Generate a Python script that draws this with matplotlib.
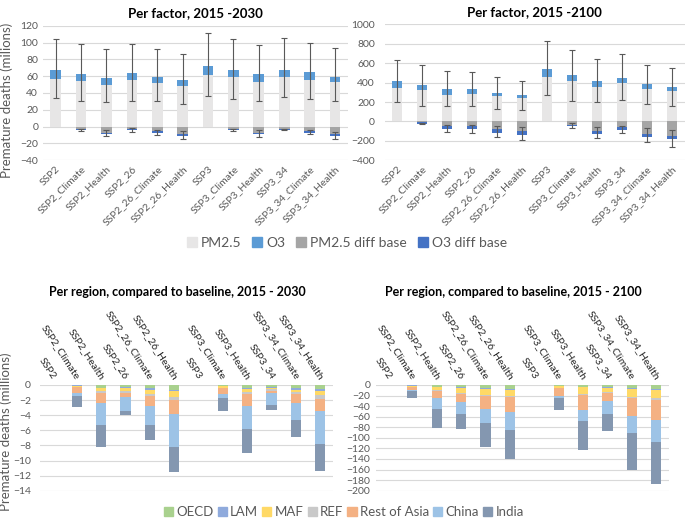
import numpy as np
import matplotlib
matplotlib.use("Agg")
import matplotlib.pyplot as plt
from matplotlib.patches import Patch

plt.rcParams["font.family"] = ["Lato", "DejaVu Sans"]

W, H = 685, 519

categories = ["SSP2", "SSP2_Climate", "SSP2_Health", "SSP2_26", "SSP2_26_Climate",
              "SSP2_26_Health", "SSP3", "SSP3_Climate", "SSP3_Health", "SSP3_34",
              "SSP3_34_Climate", "SSP3_34_Health"]
nan = np.nan

# ---- per factor, 2015-2030 ----
pm25_2030 = [57, 54.5, 50, 55, 51.5, 48.5, 61, 58.5, 53.5, 59.5, 56, 52.5]
o3_2030 = [10, 8.5, 8, 8.5, 8, 7, 11, 8.5, 9, 8, 8.5, 7]
pm25_diff_2030 = [0, -2.5, -7, -2.5, -5.5, -9, 0, -3, -7.5, -3, -5.5, -9]
o3_diff_2030 = [0, -1.5, -1.5, -1, -2, -2.5, 0, -1, -1.5, -1, -1.5, -2.5]
err_up_hi_2030 = [104, 98, 92, 98, 92, 86, 111, 104, 97, 105, 100, 93]
err_up_lo_2030 = [34, 31, 29, 31, 30, 27, 37, 33, 31, 35, 33, 30]
err_dn_hi_2030 = [nan, -2.5, -4.5, -2, -3.5, -5.5, nan, -2.5, -4.5, -2.5, -3.5, -6]
err_dn_lo_2030 = [nan, -5, -11.5, -6, -10.5, -15, nan, -5.5, -12, -4.5, -9, -15]

# ---- per factor, 2015-2100 ----
pm25_2100 = [343, 326, 274, 281, 261, 240, 453, 412, 353, 395, 333, 309]
o3_2100 = [69, 51, 59, 52, 31, 28, 86, 65, 66, 48, 48, 44]
pm25_diff_2100 = [0, -10, -51, -50, -82, -100, 0, -34, -103, -58, -127, -148]
o3_diff_2100 = [0, -14, -28, -25, -38, -37, 0, -17, -24, -28, -31, -37]
err_up_hi_2100 = [635, 577, 518, 508, 453, 415, 827, 731, 642, 693, 580, 546]
err_up_lo_2100 = [199, 161, 154, 154, 130, 113, 271, 213, 199, 223, 178, 161]
err_dn_hi_2100 = [nan, -15, -38, -38, -51, -58, nan, -17, -58, -45, -69, -86]
err_dn_lo_2100 = [nan, -30, -110, -120, -161, -189, nan, -69, -172, -120, -216, -260]

# ---- per region, 2015-2030 ----
regions = ["OECD", "LAM", "MAF", "REF", "Rest of Asia", "China", "India"]
oecd_2030 = [0, -0.05, -0.4, -0.3, -0.45, -0.65, 0, -0.07, -0.45, -0.3, -0.45, -0.55]
lam_2030 = [0, -0.05, -0.05, -0.15, -0.15, -0.2, 0, -0.03, -0.1, -0.05, -0.15, -0.2]
maf_2030 = [0, -0.15, -0.4, -0.4, -0.6, -0.8, 0, -0.3, -0.35, -0.2, -0.35, -0.6]
ref_2030 = [0, -0.05, -0.25, -0.2, -0.25, -0.4, 0, -0.05, -0.35, -0.25, -0.2, -0.45]
roa_2030 = [0, -0.75, -1.3, -0.55, -1.3, -1.75, 0, -0.75, -1.5, -0.3, -1.2, -1.6]
china_2030 = [0, -0.4, -2.85, -1.9, -2.55, -4.45, 0, -0.55, -3.05, -1.6, -2.3, -4.45]
india_2030 = [0, -1.5, -3.0, -0.5, -1.95, -3.25, 0, -1.65, -3.25, -0.65, -2.2, -3.5]

# ---- per region, 2015-2100 ----
oecd_2100 = [0, -0.5, -3.5, -3, -5, -7, 0, -1, -3.5, -3, -5, -7]
lam_2100 = [0, -0.5, -0.5, -3, -3, -2, 0, -0.5, -1, -3.5, -3.5, -3]
maf_2100 = [0, -3, -5, -8.5, -10.5, -11, 0, -4.5, -12, -7.5, -14, -15.5]
ref_2100 = [0, -0.5, -1.5, -2, -2, -2.5, 0, -0.5, -2, -2, -2.5, -3]
roa_2100 = [0, -5, -15, -15, -24, -28, 0, -14, -28, -14, -34.5, -38.5]
china_2100 = [0, -1.5, -19, -23, -26.5, -34, 0, -3.5, -22, -24.5, -31.5, -40]
india_2100 = [0, -13, -37.5, -29.5, -47, -56, 0, -24, -54, -32, -70, -80]

factor_colors = ["#E7E6E6", "#5B9BD5", "#A5A5A5", "#4472C4"]
region_colors = ["#A9D18E", "#8FAADC", "#FFD966", "#C9C9C9", "#F4B183", "#9DC3E6", "#8497B0"]
GRID = "#D9D9D9"
TXT = "#595959"


def axes_px(fig, x0, x1, y0, y1):
    return fig.add_axes([x0 / W, 1 - y1 / H, (x1 - x0) / W, (y1 - y0) / H])


def style(ax, ylim, step):
    ax.set_ylim(*ylim)
    ax.set_xlim(-0.5, len(categories) - 0.5)
    ax.set_yticks(np.arange(ylim[0], ylim[1] + step / 2, step))
    ax.grid(axis="y", color=GRID, lw=0.8)
    ax.set_axisbelow(True)
    for s in ax.spines.values():
        s.set_visible(False)
    ax.tick_params(length=0, labelsize=7.5, labelcolor=TXT)


def factor_panel(ax, pm, o3, pmd, o3d, uhi, ulo, dhi, dlo, ylim, step, title):
    x = np.arange(len(categories))
    pm, o3, pmd, o3d = map(np.array, (pm, o3, pmd, o3d))
    w = 0.42
    ax.bar(x, pm, w, color=factor_colors[0])
    ax.bar(x, o3, w, bottom=pm, color=factor_colors[1])
    ax.bar(x, pmd, w, color=factor_colors[2])
    ax.bar(x, o3d, w, bottom=pmd, color=factor_colors[3])
    top = pm + o3
    ax.errorbar(x, top, yerr=[top - np.array(ulo), np.array(uhi) - top], fmt="none",
                ecolor=TXT, elinewidth=0.8, capsize=2.5, capthick=0.8)
    bot = pmd + o3d
    m = ~np.isnan(np.array(dhi))
    ax.errorbar(x[m], bot[m], yerr=[bot[m] - np.array(dlo)[m], np.array(dhi)[m] - bot[m]],
                fmt="none", ecolor=TXT, elinewidth=0.8, capsize=2.5, capthick=0.8)
    style(ax, ylim, step)
    ax.set_xticks(x)
    ax.set_xticklabels(categories, rotation=45, ha="right", rotation_mode="anchor")
    ax.tick_params(axis="x", pad=3)
    ax.set_title(title, fontsize=9.5, fontweight="bold", pad=6)


def region_panel(ax, series, ylim, step):
    x = np.arange(len(categories))
    base = np.zeros(len(categories))
    for vals, c in zip(series, region_colors):
        v = np.array(vals)
        ax.bar(x, v, 0.42, bottom=base, color=c)
        base = base + v
    style(ax, ylim, step)
    ax.set_xticks([])
    for i, lab in enumerate(categories):
        ax.text(i + 0.05, 1.06, lab, transform=ax.get_xaxis_transform(), rotation=-57,
                ha="right", va="center", rotation_mode="anchor", fontsize=7.5,
                color="#262626")


fig = plt.figure(figsize=(W / 100, H / 100), dpi=100)

ax1 = axes_px(fig, 43, 347.7, 25.7, 160.3)
factor_panel(ax1, pm25_2030, o3_2030, pm25_diff_2030, o3_diff_2030,
             err_up_hi_2030, err_up_lo_2030, err_dn_hi_2030, err_dn_lo_2030,
             (-40, 120), 20, "Per factor, 2015 -2030")
ax2 = axes_px(fig, 384.5, 684.5, 24.3, 160.3)
factor_panel(ax2, pm25_2100, o3_2100, pm25_diff_2100, o3_diff_2100,
             err_up_hi_2100, err_up_lo_2100, err_dn_hi_2100, err_dn_lo_2100,
             (-400, 1000), 200, "Per factor, 2015 -2100")
ax2.tick_params(axis="y", pad=7)

ax3 = axes_px(fig, 40.1, 332.5, 385, 490.7)
region_panel(ax3, [oecd_2030, lam_2030, maf_2030, ref_2030, roa_2030, china_2030, india_2030],
             (-14, 0), 2)
ax3.tick_params(axis="y", pad=6.5)
ax4 = axes_px(fig, 375.7, 668.5, 385, 490.7)
region_panel(ax4, [oecd_2100, lam_2100, maf_2100, ref_2100, roa_2100, china_2100, india_2100],
             (-200, 0), 20)
ax4.tick_params(axis="y", pad=4)

fig.text(177 / W, 1 - 292 / H, "Per region, compared to baseline, 2015 - 2030",
         ha="center", va="center", fontsize=9, fontweight="bold")
fig.text(513 / W, 1 - 292 / H, "Per region, compared to baseline, 2015 - 2100",
         ha="center", va="center", fontsize=9, fontweight="bold")

fig.text(7 / W, 1 - 100 / H, "Premature deaths (milions)", rotation=90,
         ha="center", va="center", fontsize=9.5, color=TXT)
fig.text(6 / W, 1 - 432 / H, "Premature deaths (millions)", rotation=90,
         ha="center", va="center", fontsize=9.5, color=TXT)

h1 = [Patch(color=c) for c in factor_colors]
fig.legend(h1, ["PM2.5", "O3", "PM2.5 diff base", "O3 diff base"], loc="center",
           bbox_to_anchor=(347 / W, 1 - 243 / H), ncol=4, frameon=False, fontsize=10,
           handlelength=0.7, handleheight=0.7, handletextpad=0.3, columnspacing=0.8,
           labelcolor=TXT)
h2 = [Patch(color=c) for c in region_colors]
fig.legend(h2, regions, loc="center", bbox_to_anchor=(344 / W, 1 - 512 / H), ncol=7,
           frameon=False, fontsize=9.5, handlelength=0.7, handleheight=0.7,
           handletextpad=0.25, columnspacing=0.3, labelcolor=TXT)

fig.savefig("out.png", dpi=100)
